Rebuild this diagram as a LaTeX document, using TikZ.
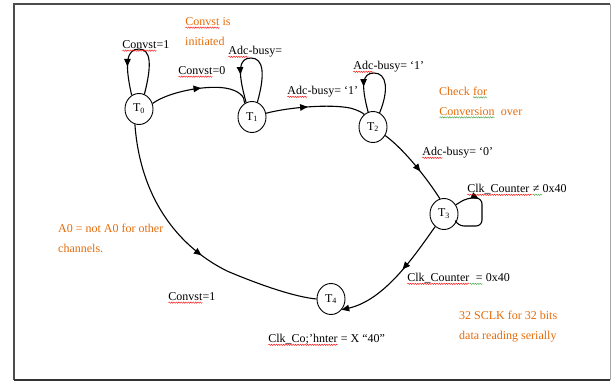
\documentclass[tikz,border=0pt]{standalone}
\usepackage{fontspec}
\setmainfont{Liberation Serif}
\usetikzlibrary{shapes.geometric,decorations.pathmorphing,decorations.markings,arrows.meta}
\definecolor{org}{RGB}{228,108,10}
\definecolor{spgreen}{RGB}{60,160,60}
\newcommand\wavyu[2][red]{\tikz[baseline=(wvu.base)]{\node[inner sep=0pt,outer sep=0pt,anchor=base](wvu){#2};\draw[#1,line width=0.4pt,decorate,decoration={snake,amplitude=0.7pt,segment length=2.4pt}]([yshift=-2.2pt]wvu.base west)--([yshift=-2.2pt]wvu.base east);}}
\tikzset{
  state/.style={draw,ellipse,line width=0.9pt,minimum width=28pt,minimum height=31pt,inner sep=0pt,font=\fontsize{12}{14}\selectfont},
  conn/.style={line width=1.1pt},
  midarr/.style={postaction={decorate},decoration={markings,mark=at position #1 with {\arrow{Triangle[length=7.5pt,width=6.5pt]}}}},
  endarr/.style={-{Triangle[length=7.5pt,width=6.5pt]}},
  lab/.style={anchor=west,inner sep=0pt,font=\fontsize{12}{20}\selectfont,align=left},
  note/.style={lab,text=org},
}
\begin{document}
\begin{tikzpicture}[x=1pt,y=-1pt]
\useasboundingbox (0,0) rectangle (611,381);
% frame
\draw[line width=1.3pt,black!70] (14,380) -- (14,4) -- (610,4);
\draw[line width=1pt,black!35] (610,4) -- (610,380);
\draw[line width=1.3pt,black!80] (14,380) -- (610,380);
% states
\node[state] (T0) at (139,109) {T\textsubscript{0}};
\node[state] (T1) at (252,117) {T\textsubscript{1}};
\node[state] (T2) at (373,127) {T\textsubscript{2}};
\node[state] (T3) at (444,214) {T\textsubscript{3}};
\node[state] (T4) at (331,299) {T\textsubscript{4}};
% self loops
\draw[conn,midarr=0.72] (T0.70) .. controls (152,65) and (151,49) .. (139,49) .. controls (127,49) and (124,62) .. (T0.118);
\draw[conn,midarr=0.72] (T1.70) .. controls (265,75) and (264,58) .. (251,58) .. controls (239,58) and (237,70) .. (T1.112);
\draw[conn,midarr=0.72] (T2.65) .. controls (389,90) and (387,73) .. (374,73) .. controls (362,73) and (361,85) .. (T2.108);
\draw[conn,midarr=0.3,rounded corners=6pt] (T3.38) -- (467,198) -- (482,198) -- (482,226) -- (458,226) -- (T3.-35);
% transitions
\draw[conn,midarr=0.5] (T0.22) .. controls (168,92) and (205,85) .. (225,88) .. controls (238,90) and (245,96) .. (T1.118);
\draw[conn,midarr=0.42] (T1.15) .. controls (290,107) and (330,104) .. (350,108) .. controls (358,110) and (363,113) .. (T2.125);
\draw[conn,midarr=0.6] (T2.-35) .. controls (405,150) and (428,180) .. (T3.105);
\draw[conn,midarr=0.42,endarr] (T3.235) .. controls (415,255) and (385,300) .. (T4.-45);
\draw[conn,midarr=0.55] (T0.255) .. controls (140,195) and (175,245) .. (227,271) .. controls (260,285) and (295,297) .. (T4.180);
% labels
\node[lab] (l1) at (122,46) {\wavyu{Convst}=1};
\node[note] (n1) at (185,31.5) {\wavyu{Convst} is\\initiated};
\node[lab] (l2) at (228,52) {\wavyu{Adc}-busy=};
\node[lab] (l3) at (178,72) {\wavyu{Convst}=0};
\node[lab] (l4) at (287,92) {\wavyu{Adc}-busy= ‘1’};
\node[lab] (l5) at (353,67) {\wavyu{Adc}-busy= ‘1’};
\node[note] (n2) at (439,102.5) {Check \wavyu[spgreen]{for}\\\wavyu[spgreen]{Conversion}\ \ over};
\node[lab] (l6) at (422,153) {\wavyu{Adc}-busy= ‘0’};
\node[lab] (l7) at (467,190) {\wavyu{Clk\_Counter }\wavyu[spgreen]{≠ }0x40};
\node[note] (n3) at (58,238) {A0 = not A0 for other\\channels.};
\node[lab] (l8) at (168,298) {\wavyu{Convst}=1};
\node[lab] (l9) at (407,279) {\wavyu{Clk\_Counter}\wavyu[spgreen]{\ \ =} 0x40};
\node[note] (n4) at (459,327) {32 SCLK for 32 bits\\data reading serially};
\node[lab] (l10) at (268,340) {\wavyu{Clk\_Co;'hnter} = X “40”};
\end{tikzpicture}
\end{document}
